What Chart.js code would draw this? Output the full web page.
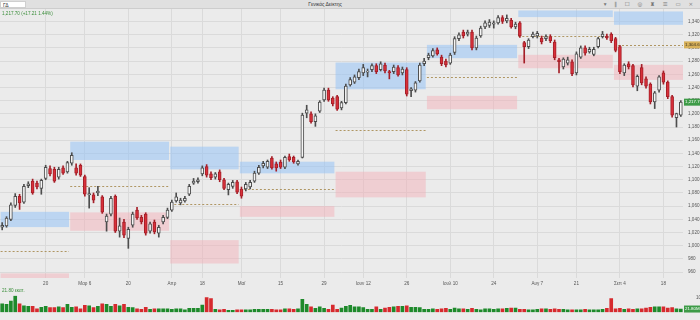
<!DOCTYPE html>
<html>
<head>
<meta charset="utf-8">
<script src="https://cdn.jsdelivr.net/npm/chart.js@4.4.0/dist/chart.umd.min.js"></script>
<style>
  body { margin:0; width:700px; height:320px; overflow:hidden; position:relative; background:#ebebeb; font-family:"Liberation Sans", Arial, sans-serif; }
  #top { position:absolute; left:0; top:0; width:700px; height:8px; background:#e0e0e0; border-bottom:1px solid #cdcdcd; z-index:2; }
  #sym { position:absolute; left:0; top:1px; width:26px; height:7px; background:#fff; border:1px solid #cfcfcf; font-size:5px; line-height:7px; color:#333; padding-left:2px; box-sizing:border-box; }
  #title { position:absolute; left:0; width:650px; top:1px; text-align:center; font-size:5px; color:#333; }
  #icons { position:absolute; right:4px; top:0; font-family:"DejaVu Sans"; font-size:5.5px; color:#777; letter-spacing:3px; line-height:8px; }
  .info { position:absolute; left:2px; font-size:4.6px; color:#3c8f3c; z-index:2; }
  canvas { position:absolute; left:0; }
</style>
</head>
<body>
<div id="top">
  <div id="sym">ΓΔ</div>
  <div id="title">Γενικός Δείκτης</div>
  <div id="icons">▾ ‖ ☐ ◎ ♜ ☰ ▭ ×</div>
</div>
<div class="info" style="top:11px">1,217.70 (+17.21 1.44%)</div>
<div class="info" style="top:288px">21.80 εκατ.</div>
<canvas id="price" width="700" height="290" style="top:0"></canvas>
<canvas id="vol" width="700" height="32" style="top:288px"></canvas>
<script>
//Dias de negociacion (2023)
const dates = ['02-06','02-07','02-08','02-09','02-10','02-13','02-14','02-15','02-16','02-17','02-20','02-21','02-22','02-23','02-24','02-28',
  '03-01','03-02','03-03','03-06','03-07','03-08','03-09','03-10','03-13','03-14','03-15','03-16','03-17','03-20','03-21','03-22','03-23','03-24','03-27','03-28','03-29','03-30','03-31',
  '04-03','04-04','04-05','04-06','04-07','04-12','04-13','04-18','04-19','04-20','04-21','04-24','04-25','04-26','04-27','04-28',
  '05-02','05-03','05-04','05-05','05-08','05-09','05-10','05-11','05-12','05-15','05-16','05-17','05-18','05-19','05-22','05-23','05-24','05-25','05-26','05-29','05-30','05-31',
  '06-01','06-02','06-06','06-07','06-08','06-09','06-12','06-13','06-14','06-15','06-16','06-19','06-20','06-21','06-22','06-23','06-26','06-27','06-28','06-29','06-30',
  '07-03','07-04','07-05','07-06','07-07','07-10','07-11','07-12','07-13','07-14','07-17','07-18','07-19','07-20','07-21','07-24','07-25','07-26','07-27','07-28','07-31',
  '08-01','08-02','08-03','08-04','08-07','08-08','08-09','08-10','08-11','08-14','08-16','08-17','08-18','08-21','08-22','08-23','08-24','08-25','08-28','08-29','08-30','08-31',
  '09-01','09-04','09-05','09-06','09-07','09-08','09-11','09-12','09-13','09-14','09-15','09-18','09-19','09-20','09-21','09-22'];

//Precios
const open = [1028,1030,1040,1061,1075,1066,1091,1098,1095,1087, 1102,1117,1116,1104,1118,1112,1125,1118,1122,1105,
  1077,1077,1080,1074,1036,1048,1075,1022,1036,1011, 1031,1054,1043,1048,1022,1036,1019,1036,1043,1054,
  1068,1065,1068,1078,1095,1097,1109,1120,1109,1104, 1112,1100,1085,1090,1097,1086,1086,1089,1098,1110,
  1121,1119,1133,1124,1127,1119,1135,1134,1124,1134, 1201,1200,1188,1204,1221,1236,1224,1226,1209,1217,
  1244,1248,1255,1262,1263,1267,1273,1267,1274,1264, 1264,1270,1262,1267,1235,1236,1250,1276,1285,1288,
  1297,1286,1280,1277,1293,1314,1324,1321,1324,1300, 1318,1332,1334,1336,1338,1346,1341,1342,1332,1338,
  1308,1302,1317,1318,1315,1314,1317,1309,1282,1271, 1277,1279,1262,1286,1300,1294,1290,1302,1317,1318,
  1321,1314,1302,1262,1276,1273,1242,1270,1253,1245, 1218,1236,1262,1248,1226,1194,1198];
const high = [1035,1044,1065,1079,1078,1093,1097,1101,1098,1101, 1122,1121,1119,1119,1121,1128,1141,1124,1124,1107,
  1088,1080,1090,1076,1048,1075,1077,1042,1040,1028, 1051,1058,1046,1050,1036,1039,1031,1046,1057,1069,
  1080,1072,1075,1093,1102,1103,1121,1123,1112,1111, 1115,1102,1095,1099,1099,1089,1096,1099,1113,1122,
  1128,1130,1135,1127,1130,1136,1139,1136,1130,1201, 1213,1203,1200,1220,1239,1239,1226,1228,1219,1245,
  1255,1259,1268,1275,1268,1276,1276,1279,1277,1266, 1274,1273,1271,1270,1240,1249,1277,1284,1292,1299,
  1300,1289,1283,1292,1317,1323,1327,1327,1327,1318, 1333,1341,1343,1341,1349,1349,1350,1345,1339,1340,
  1310,1314,1324,1325,1318,1320,1320,1312,1284,1285, 1286,1282,1294,1303,1303,1301,1301,1316,1325,1321,
  1323,1316,1304,1276,1279,1275,1259,1275,1256,1247, 1234,1258,1265,1250,1228,1201,1220];
const low = [1024,1028,1038,1058,1055,1064,1088,1078,1086,1078, 1100,1106,1096,1101,1108,1110,1122,1107,1105,1075,
  1057,1065,1076,1049,1022,1045,1020,1013,1012,996, 1028,1040,1033,1016,1019,1018,1013,1033,1041,1052,
  1066,1062,1066,1076,1093,1095,1106,1104,1100,1101, 1097,1085,1077,1087,1079,1072,1083,1086,1096,1108,
  1118,1117,1116,1113,1117,1117,1128,1125,1122,1133, 1194,1186,1181,1202,1219,1219,1212,1205,1206,1215,
  1242,1246,1252,1258,1256,1264,1261,1265,1262,1253, 1261,1257,1259,1227,1226,1233,1248,1273,1282,1286,
  1289,1273,1271,1275,1290,1311,1315,1318,1297,1297, 1316,1329,1331,1330,1336,1337,1338,1330,1329,1316,
  1277,1299,1315,1315,1306,1311,1308,1282,1262,1268, 1274,1258,1259,1284,1289,1292,1288,1300,1315,1313,
  1308,1294,1261,1258,1268,1241,1235,1244,1239,1215, 1208,1233,1245,1223,1195,1180,1196];
const close = [1031,1042,1062,1075,1065,1090,1094,1080,1089,1099, 1119,1109,1098,1116,1110,1126,1137,1110,1107,1078,
  1079,1069,1083,1051,1045,1072,1022,1030,1016,1025, 1048,1042,1036,1019,1033,1021,1028,1043,1054,1066,
  1074,1069,1072,1090,1098,1100,1118,1107,1103,1109, 1100,1087,1093,1096,1081,1075,1093,1096,1110,1119,
  1125,1128,1118,1118,1119,1134,1130,1127,1128,1198, 1206,1188,1197,1218,1236,1221,1215,1207,1217,1242,
  1252,1256,1264,1270,1265,1273,1264,1276,1265,1262, 1271,1259,1268,1230,1238,1247,1274,1280,1289,1296,
  1291,1276,1274,1289,1314,1320,1318,1324,1300,1315, 1330,1338,1339,1338,1346,1340,1345,1332,1336,1318,
  1302,1312,1321,1322,1309,1317,1311,1285,1279,1283, 1282,1261,1291,1300,1292,1298,1298,1314,1321,1315,
  1311,1296,1264,1274,1271,1244,1257,1247,1242,1218, 1232,1256,1248,1226,1198,1200.5,1217.7];

//Volumen en millones
const volume = [57,53,76,111,57,44,40,40,24,33, 40,31,31,36,31,53,33,36,24,47,
  43,31,40,57,53,40,53,44,53,33, 31,24,20,33,20,24,24,24,24,20,
  24,24,17,27,27,27,49,100,93,20, 16,20,13,13,17,17,17,17,20,20,
  20,20,20,16,16,24,24,20,24,87, 53,36,27,36,27,20,49,20,29,40,
  47,37,36,31,20,20,37,20,29,33, 37,40,40,43,33,33,31,20,20,24,
  20,23,27,20,29,24,24,20,27,20, 17,24,24,20,24,24,27,29,29,20,
  20,17,17,20,23,24,20,24,20,20, 17,17,16,17,20,17,16,17,20,27,
  93,24,27,20,24,20,24,24,29,33, 36,36,37,29,31,24,21.8];

//Zonas mensuales
const zoneFrom = ['02-06','03-01','04-03','05-02','06-01','07-03','08-01','09-01'];
const zoneTo   = ['02-28','03-31','04-28','05-31','06-30','07-31','08-31','09-22'];
const blueHi = [1051.4,1157.8,1150.2,1127.4,1277.8,1304.6,1356.8,1355.3];
const blueLo = [1028.2,1130.0,1115.8,1109.7,1237.3,1284.4,1346.7,1335.0];
const pinkHi = [958.0,1050.5,1008.4,1060.0,1112.2,1227.2,1289.5,1274.3];
const pinkLo = [945.0,1022.6,973.0,1043.8,1073.3,1207.0,1269.2,1251.5];
const pivot  = [991.7,1090.5,1062.6,1085.9,1175.5,1255.5,1318.8,1304.6];

//Etiquetas de los ejes
const yTicks = [960,980,1000,1020,1040,1060,1080,1100,1120,1140,1160,1180,1200,1220,1240,1260,1280,1300,1320,1340];
const xTickDates = ['02-20','03-06','03-20','04-03','04-18','05-02','05-15','05-29','06-12','06-26','07-10','07-24','08-07','08-21','09-04','09-18'];
const xTickText  = ['20','Μαρ 6','20','Απρ','18','Μαϊ','15','29','Ιουν 12','26','Ιουλ 10','24','Αυγ 7','21','Σεπ 4','18'];

const UP_FILL = '#f5f5f5', UP_LINE = '#4d4d4d', DN_FILL = '#d8303a', DN_LINE = '#a51f28';
const up = i => close[i] >= open[i];
const fmt = v => v.toLocaleString('en-US', {minimumFractionDigits: 2, maximumFractionDigits: 2});

//Cajas, lineas de pivote y etiquetas del eje
const zonas = {
  id: 'zonas',
  beforeDatasetsDraw(chart) {
    const {ctx, chartArea: a, scales: {x, y}} = chart;
    const step = x.getPixelForValue(1) - x.getPixelForValue(0);
    ctx.save();
    ctx.beginPath();
    ctx.rect(a.left, a.top, a.right - a.left, a.bottom - a.top);
    ctx.clip();
    zoneFrom.forEach((d, i) => {
      const x1 = x.getPixelForValue(dates.indexOf(d)) - step / 2 + 0.6;
      const x2 = i === zoneFrom.length - 1 ? a.right : x.getPixelForValue(dates.indexOf(zoneTo[i])) + step / 2 - 0.6;
      ctx.fillStyle = 'rgba(150,195,245,0.55)';
      let t = y.getPixelForValue(blueHi[i]);
      ctx.fillRect(x1, t, x2 - x1, y.getPixelForValue(blueLo[i]) - t);
      ctx.fillStyle = 'rgba(245,170,180,0.45)';
      t = y.getPixelForValue(pinkHi[i]);
      ctx.fillRect(x1, t, x2 - x1, y.getPixelForValue(pinkLo[i]) - t);
      const py = Math.round(y.getPixelForValue(pivot[i])) + 0.5;
      ctx.strokeStyle = 'rgba(165,135,75,0.85)';
      ctx.lineWidth = 1;
      ctx.setLineDash([2, 2]);
      ctx.beginPath();
      ctx.moveTo(x1, py);
      ctx.lineTo(x2, py);
      ctx.stroke();
    });
    ctx.restore();
  },
  afterDraw(chart) {
    const {ctx, chartArea: a, scales: {y}} = chart;
    const tag = (v, bg, fg) => {
      const py = y.getPixelForValue(v);
      ctx.fillStyle = bg;
      ctx.fillRect(a.right + 1, py - 3.5, 16, 7);
      ctx.fillStyle = fg;
      ctx.font = '4.4px "Liberation Sans"';
      ctx.textAlign = 'left';
      ctx.textBaseline = 'middle';
      ctx.fillText(fmt(v), a.right + 2, py);
    };
    tag(pivot[pivot.length - 1], '#d7b15a', '#3a3020');
    tag(close[close.length - 1], '#3d9b47', '#ffffff');
  }
};

new Chart(document.getElementById('price'), {
  type: 'bar',
  data: {
    labels: dates,
    datasets: [{
      label: 'cuerpo',
      data: open.map((o, i) => [o, close[i]]),
      grouped: false,
      order: 0,
      barThickness: 3,
      minBarLength: 1,
      borderWidth: 1,
      borderSkipped: false,
      backgroundColor: c => up(c.dataIndex) ? UP_FILL : DN_FILL,
      borderColor: c => up(c.dataIndex) ? UP_LINE : DN_LINE
    }, {
      label: 'mecha',
      data: low.map((l, i) => [l, high[i]]),
      grouped: false,
      order: 1,
      barThickness: 1,
      backgroundColor: c => up(c.dataIndex) ? UP_LINE : DN_LINE
    }]
  },
  options: {
    responsive: false,
    animation: false,
    devicePixelRatio: 1,
    layout: { padding: { top: 9 } },
    plugins: { legend: { display: false }, tooltip: { enabled: false } },
    scales: {
      x: {
        offset: true,
        grid: { color: '#dadada', offset: false, drawTicks: false },
        border: { display: false },
        ticks: {
          autoSkip: false, maxRotation: 0, padding: 3, color: '#555',
          font: { size: 4.6, family: 'Liberation Sans' },
          callback: v => xTickText[xTickDates.indexOf(dates[v])] || ''
        },
        afterBuildTicks: s => { s.ticks = s.ticks.filter(t => xTickDates.includes(dates[t.value])); },
        afterFit: s => { s.height = 12; }
      },
      y: {
        position: 'right',
        min: 951,
        max: 1359,
        grid: { color: '#dadada', drawTicks: false },
        border: { display: false },
        ticks: {
          padding: 5, color: '#555',
          font: { size: 4.6, family: 'Liberation Sans' },
          callback: v => v.toLocaleString('en-US')
        },
        afterBuildTicks: s => { s.ticks = yTicks.map(v => ({ value: v })); },
        afterFit: s => { s.width = 17; }
      }
    }
  },
  plugins: [zonas]
});

//Etiqueta del ultimo volumen
const ultimoVol = {
  id: 'ultimoVol',
  afterDraw(chart) {
    const {ctx, chartArea: a, scales: {y}} = chart;
    const v = volume[volume.length - 1];
    const py = y.getPixelForValue(v);
    ctx.fillStyle = '#3d9b47';
    ctx.fillRect(a.right + 1, py - 3.5, 16, 7);
    ctx.fillStyle = '#fff';
    ctx.font = '4.4px "Liberation Sans"';
    ctx.textBaseline = 'middle';
    ctx.fillText(v.toFixed(2) + 'M', a.right + 2, py);
  }
};

new Chart(document.getElementById('vol'), {
  type: 'bar',
  data: {
    labels: dates,
    datasets: [{
      data: volume,
      barThickness: 3,
      borderWidth: 0,
      backgroundColor: c => up(c.dataIndex) ? '#1e8a2b' : '#d62a2e'
    }]
  },
  options: {
    responsive: false,
    animation: false,
    devicePixelRatio: 1,
    layout: { padding: { top: 1, bottom: 3 } },
    plugins: { legend: { display: false }, tooltip: { enabled: false } },
    scales: {
      x: { display: false, offset: true },
      y: {
        position: 'right',
        min: 0,
        max: 112,
        grid: { display: false },
        border: { display: false },
        ticks: {
          padding: 5, color: '#555',
          font: { size: 4.6, family: 'Liberation Sans' },
          callback: v => v + 'M'
        },
        afterBuildTicks: s => { s.ticks = [{ value: 100 }]; },
        afterFit: s => { s.width = 17; }
      }
    }
  },
  plugins: [ultimoVol]
});
</script>
</body>
</html>
